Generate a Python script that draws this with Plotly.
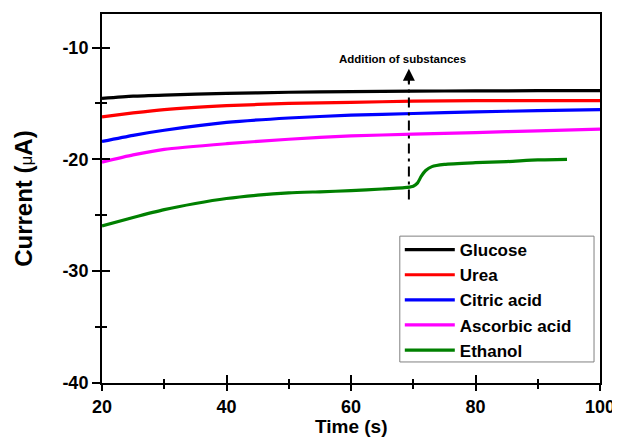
import plotly.graph_objects as go

# ---- data ----
t_common = [20, 25, 30, 40, 50, 60, 70, 80, 90, 100]
glucose = [-14.55, -14.35, -14.25, -14.1, -14.0, -13.95, -13.9, -13.88, -13.86, -13.85]
urea = [-16.2, -15.85, -15.55, -15.2, -15.0, -14.9, -14.8, -14.75, -14.75, -14.75]
citric = [-18.4, -17.85, -17.4, -16.7, -16.3, -16.05, -15.9, -15.75, -15.65, -15.55]
ascorbic = [-20.25, -19.6, -19.1, -18.6, -18.2, -17.9, -17.75, -17.6, -17.45, -17.3]

t_ethanol = [20, 25, 30, 35, 40, 45, 50, 55, 60, 65, 69, 70, 70.7, 71.3, 72, 73, 75, 80, 85, 90, 94.7]
ethanol = [-25.95, -25.2, -24.5, -23.95, -23.5, -23.2, -23.0, -22.9, -22.8, -22.65, -22.5,
           -22.4, -22.1, -21.5, -21.0, -20.65, -20.45, -20.3, -20.2, -20.05, -20.0]

names = ["Glucose", "Urea", "Citric acid", "Ascorbic acid", "Ethanol"]
colors = ["#000000", "#ff0000", "#0000ff", "#ff00ff", "#008000"]

x_tickvals = [20, 40, 60, 80, 100]
x_ticktext = ["20", "40", "60", "80", "100"]
x_minor = [30, 50, 70, 90]
y_tickvals = [-10, -20, -30, -40]
y_ticktext = ["-10", "-20", "-30", "-40"]
y_minor = [-15, -25, -35]

x_title = "Time (s)"
add_time = 69.3
add_line_bottom = -23.6
add_arrow_tip = -11.9
add_label = "Addition of substances"

x_range = [20, 100]
y_range = [-40, -7]

FONT = "Liberation Sans, Arial, sans-serif"

fig = go.Figure()
series = [(t_common, glucose), (t_common, urea), (t_common, citric), (t_common, ascorbic), (t_ethanol, ethanol)]
for (tx, ty), name, col in zip(series, names, colors):
    fig.add_trace(go.Scatter(x=tx, y=ty, mode="lines", name=name,
                             line=dict(color=col, width=3.2, shape="spline", smoothing=0.6)))

# dummy trace for overlay axes (inside ticks)
fig.add_trace(go.Scatter(x=[None], y=[None], xaxis="x2", yaxis="y2", showlegend=False, hoverinfo="skip"))

# legend frame
fig.add_shape(type="rect", xref="paper", yref="paper", x0=0.598, x1=0.988, y0=0.057, y1=0.398,
              line=dict(color="#808080", width=1), fillcolor="white", layer="below")

# dash-dot vertical line at substance addition
fig.add_shape(type="line", xref="x", yref="y", x0=add_time, x1=add_time,
              y0=add_line_bottom, y1=add_arrow_tip - 0.9,
              line=dict(color="black", width=2, dash="10px,5px,3px,5px"))
fig.add_annotation(x=add_time, y=add_arrow_tip, ax=add_time, ay=add_arrow_tip - 1.4,
                   xref="x", yref="y", axref="x", ayref="y", text="",
                   showarrow=True, arrowhead=2, arrowsize=1.2, arrowwidth=2, arrowcolor="black")
fig.add_annotation(x=add_time - 1.1, y=add_arrow_tip + 0.85, xref="x", yref="y",
                   text="<b>" + add_label + "</b>", showarrow=False,
                   font=dict(family=FONT, size=11.5, color="black"))

# axis titles
fig.add_annotation(x=0.5, y=-0.119, xref="paper", yref="paper", xanchor="center", yanchor="middle",
                   text="<b>" + x_title + "</b>", showarrow=False,
                   font=dict(family=FONT, size=19, color="black"))
fig.add_annotation(x=-0.158, y=0.5, xref="paper", yref="paper", xanchor="center", yanchor="middle",
                   textangle=-90, showarrow=False,
                   text="<b>Current (</b><span style='font-size:17px'>μ</span><b>A)</b>",
                   font=dict(family=FONT, size=24, color="black"))

xtickfont = dict(family=FONT, size=18, color="black", weight="bold")
ytickfont = dict(family=FONT, size=18, color="black", weight="bold")

# page body has an 8px margin: figure is sized so that it fills the 620x443 window
fig.update_layout(
    width=612, height=435,
    margin=dict(l=94, r=20, t=6, b=60),
    plot_bgcolor="white", paper_bgcolor="white",
    font=dict(family=FONT, color="black"),
    xaxis=dict(range=x_range, tickvals=x_tickvals, ticktext=x_ticktext, ticks="outside", ticklen=6, tickwidth=1.5,
               tickcolor="black", showline=True, linecolor="black", linewidth=2, mirror=True,
               showgrid=False, zeroline=False, tickfont=xtickfont, automargin=False,
               minor=dict(tickvals=x_minor, ticks="outside", ticklen=4, tickwidth=1.5, tickcolor="black")),
    yaxis=dict(range=y_range, tickvals=y_tickvals, ticktext=y_ticktext, ticks="outside", ticklen=8, tickwidth=1.5,
               tickcolor="black", showline=True, linecolor="black", linewidth=2, mirror=True,
               showgrid=False, zeroline=False, tickfont=ytickfont, automargin=False,
               minor=dict(tickvals=y_minor, ticks="outside", ticklen=5, tickwidth=1.5, tickcolor="black")),
    xaxis2=dict(overlaying="x", matches="x", anchor="y2", side="bottom", range=x_range, tickvals=x_tickvals,
                ticks="inside", ticklen=8, tickwidth=1.5, tickcolor="black", showticklabels=False,
                showline=False, showgrid=False, zeroline=False, automargin=False,
                minor=dict(tickvals=x_minor, ticks="inside", ticklen=4, tickwidth=1.5, tickcolor="black")),
    yaxis2=dict(overlaying="y", matches="y", anchor="x2", side="left", range=y_range,
                tickvals=y_tickvals, ticks="inside", ticklen=8, tickwidth=1.5, tickcolor="black",
                showticklabels=False, showline=False, showgrid=False, zeroline=False, automargin=False,
                minor=dict(tickvals=y_minor, ticks="inside", ticklen=5, tickwidth=1.5, tickcolor="black")),
    legend=dict(x=0.598, y=0.409, xanchor="left", yanchor="top", bgcolor="rgba(0,0,0,0)",
                borderwidth=0,
                font=dict(family=FONT, size=17, color="black", weight="bold"),
                itemwidth=50, tracegroupgap=0),
    showlegend=True,
)

fig.write_html("out.html")
